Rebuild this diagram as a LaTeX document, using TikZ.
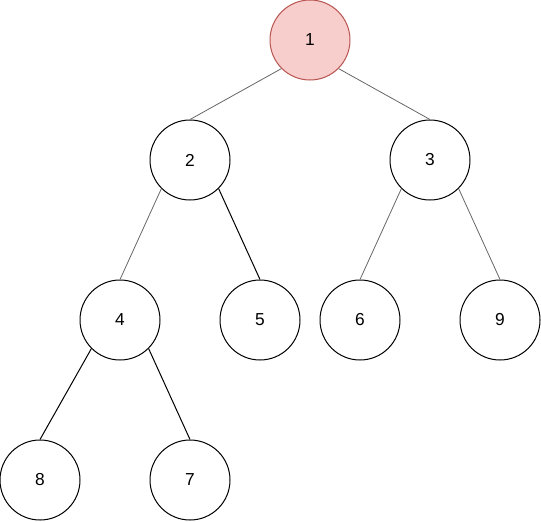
\documentclass[tikz,border=0pt]{standalone}
\usepackage{fontspec}
\setmainfont{Liberation Sans}
\definecolor{rootfill}{HTML}{F8CECC}
\definecolor{rootline}{HTML}{B85450}
\definecolor{edgegray}{HTML}{666666}
\begin{document}
\begin{tikzpicture}[x=0.75pt,y=-0.75pt,
  treenode/.style={circle,draw=black,line width=0.75pt,minimum size=60pt,inner sep=0pt,font=\fontsize{13}{15}\selectfont},
  rootnode/.style={treenode,draw=rootline,fill=rootfill},
  grayedge/.style={draw=edgegray,line width=0.6pt},
  darkedge/.style={draw=black,line width=0.75pt}]
\useasboundingbox (0,0) rectangle (541,521);
\node[rootnode] (n1) at (310,40) {1};
\node[treenode] (n2) at (190,160) {2};
\node[treenode] (n3) at (430,160) {3};
\node[treenode] (n4) at (120,320) {4};
\node[treenode] (n5) at (260,320) {5};
\node[treenode] (n6) at (360,320) {6};
\node[treenode] (n9) at (500,320) {9};
\node[treenode] (n8) at (40,480) {8};
\node[treenode] (n7) at (190,480) {7};
\draw[grayedge] (n1.south west) -- (n2.north);
\draw[grayedge] (n1.south east) -- (n3.north);
\draw[grayedge] (n2.south west) -- (n4.north);
\draw[darkedge] (n2.south east) -- (n5.north);
\draw[grayedge] (n3.south west) -- (n6.north);
\draw[grayedge] (n3.south east) -- (n9.north);
\draw[darkedge] (n4.south west) -- (n8.north);
\draw[darkedge] (n4.south east) -- (n7.north);
\end{tikzpicture}
\end{document}
